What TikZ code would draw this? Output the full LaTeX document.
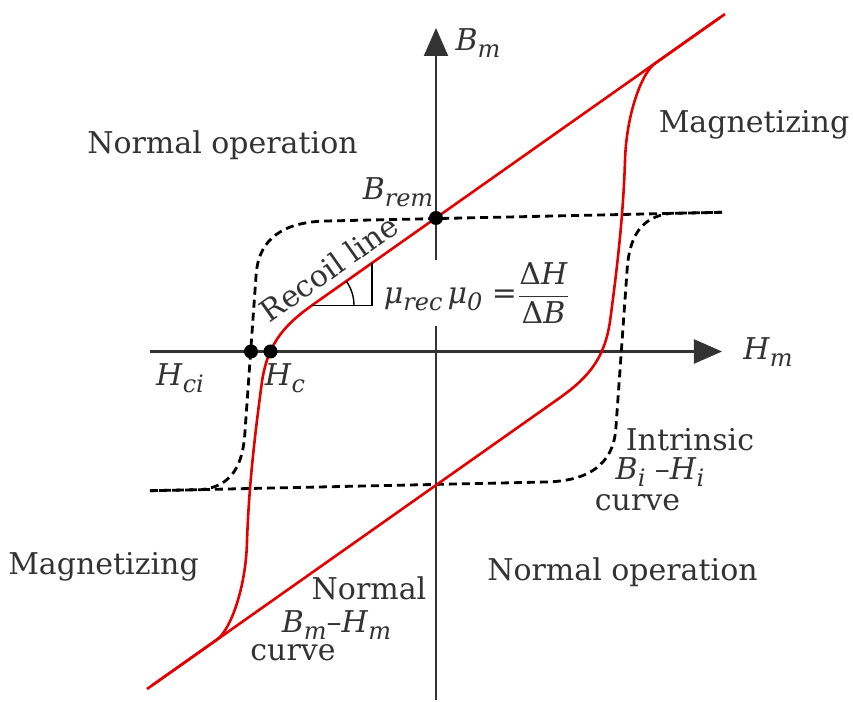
\documentclass[tikz,border=0pt]{standalone}
\usepackage{fontspec}
\setmainfont{DejaVu Serif}
\usetikzlibrary{arrows.meta}
\newcommand{\lowsub}[1]{\raisebox{-0.45ex}{\fontsize{12}{12}\selectfont\textit{#1}}}

\begin{document}
\begin{tikzpicture}[x=0.5pt,y=0.5pt,
    every node/.style={font=\fontsize{15}{18}\selectfont, text=black!80},
    axis/.style={line width=1.1pt, black!80},
    normalcurve/.style={line width=1.3pt, red!90!black},
    intrinsic/.style={line width=1.4pt, dash pattern=on 4pt off 2.5pt},
    dot/.style={circle, fill=black, inner sep=0pt, minimum size=7pt}]

    \useasboundingbox (-436,-350.5) rectangle (417,351.5); % same frame as the original

    % Axes
    \coordinate (Hleft) at (-286,0);
    \coordinate (Hright) at (286,0);
    \coordinate (Bbottom) at (0,-348.5);
    \coordinate (Btop) at (0,323.5);
    \draw[axis, -{Triangle[width=12pt,length=14pt]}] (Hleft) -- (Hright); % H axis
    \draw[axis, -{Triangle[width=12pt,length=14pt]}] (Bbottom) -- (Btop); % B axis

    % Intrinsic loop (second branch = first one turned by 180)
    \foreach \a in {0,180} {
        \draw[intrinsic, rotate=\a] (286,139.2) -- (-110,130.5)
            .. controls (-150,129.5) and (-178,115) .. (-180,75)
            -- (-191,-80)
            .. controls (-193,-115) and (-205,-135) .. (-235,-138.2)
            -- (-286,-139.2);
    }

    % Normal loop
    \foreach \a in {0,180} {
        \draw[normalcurve, rotate=\a] (284,334) -- (-120,49)
            .. controls (-150,28) and (-168,10) .. (-174,-30)
            .. controls (-180,-75) and (-187,-130) .. (-189,-190)
            .. controls (-190,-235) and (-205,-278) .. (-219,-288)
            -- (-289,-337.5);
    }

    % Recoil slope triangle
    \coordinate (Ra) at (-124,46.1);
    \coordinate (Rb) at (-64,46.1);
    \coordinate (Rc) at (-64,88.4);
    \draw[line width=0.7pt] (Ra) -- (Rb) -- (Rc);
    \draw[line width=0.7pt] ([shift={(42,0)}]Ra) arc[start angle=0, end angle=35.2, radius=42];
    \node[fill=white, inner sep=1pt] (murec) at (41,58.5)
        {\textit{μ}\lowsub{rec}\,\textit{μ}\lowsub{0} =$\displaystyle\frac{\mbox{Δ\textit{H}}}{\mbox{Δ\textit{B}}}$};
    \node[rotate=35.2] (recoil) at (-107,83) {Recoil line};

    % Points
    \node[dot] (Brem) at (0,133.5) {};
    \node[dot] (Hci) at (-185,0) {};
    \node[dot] (Hc) at (-165.5,0) {};

    % Labels
    \node (Bm) at (42,308.5) {\textit{B}\lowsub{m}};
    \node (Hm) at (332,-0.5) {\textit{H}\lowsub{m}};
    \node (Bremlabel) at (-38,159.5) {\textit{B}\lowsub{rem}};
    \node (Hcilabel) at (-256,-26.5) {\textit{H}\lowsub{ci}};
    \node (Hclabel) at (-151,-26.5) {\textit{H}\lowsub{c}};

    \node (normalUL) at (-213.5,206.5) {Normal operation};
    \node (magUR) at (318,226.5) {Magnetizing};
    \node (magLL) at (-332.5,-215.5) {Magnetizing};
    \node (normalLR) at (186.5,-220.5) {Normal operation};

    \node (curveA) at (-67,-236.5) {Normal};
    \node (curveB) at (-99.5,-273.5) {\textit{B}\lowsub{m}–\textit{H}\lowsub{m}};
    \node (curveC) at (-143,-301.5) {curve};

    \node (intrA) at (254,-88.5) {Intrinsic};
    \node (intrB) at (224,-120.5) {\textit{B}\lowsub{i} –\textit{H}\lowsub{i}};
    \node (intrC) at (201.5,-151.5) {curve};

\end{tikzpicture}
\end{document}
